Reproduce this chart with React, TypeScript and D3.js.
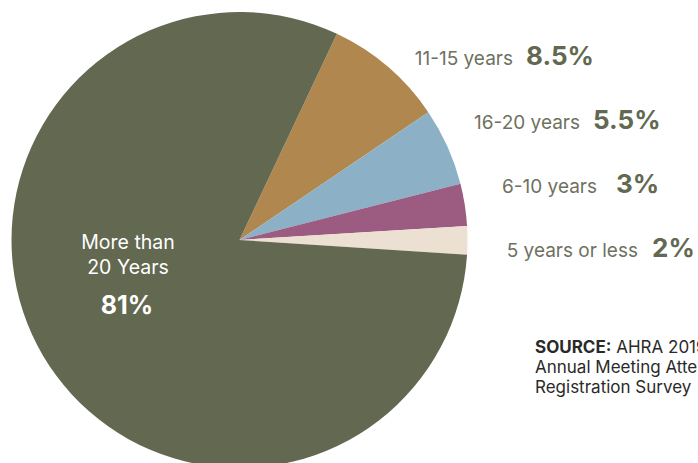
import React from "react";
import * as d3 from "d3";

const categories = ["11-15 years", "16-20 years", "6-10 years", "5 years or less", "More than 20 Years"];
const values = [8.5, 5.5, 3, 2, 81];
const valueLabels = ["8.5%", "5.5%", "3%", "2%", "81%"];
const colors = ["#b0874f", "#8cb0c6", "#9c5c82", "#ebe0d2", "#636850"];

// layout for the outside labels (right edge of category text, baseline)
const labelLayout = [
  { x: 513, y: 65, gap: 13 },
  { x: 580, y: 129, gap: 13 },
  { x: 597, y: 193, gap: 19 },
  { x: 638, y: 257, gap: 14 },
];

const W = 698;
const H = 463;
const cx = 239.5;
const cy = 240;
const R = 228;
const startDeg = 25.3;

export default function App() {
  const pie = d3
    .pie<number>()
    .sort(null)
    .value((d) => d)
    .startAngle((startDeg * Math.PI) / 180)
    .endAngle((startDeg * Math.PI) / 180 + 2 * Math.PI);
  const arcs = pie(values);
  const arc = d3.arc<d3.PieArcDatum<number>>().innerRadius(0).outerRadius(R);
  const font = "Inter, 'Noto Sans', sans-serif";

  return (
    <svg
      width={W}
      height={H}
      style={{ position: "absolute", left: 0, top: 0, background: "#fff" }}
      fontFamily={font}
    >
      <g transform={`translate(${cx},${cy})`}>
        {arcs.map((a, i) => (
          <path key={categories[i]} d={arc(a) || ""} fill={colors[i]} />
        ))}
      </g>
      {labelLayout.map((l, i) => (
        <g key={categories[i]}>
          <text x={l.x} y={l.y} textAnchor="end" fontSize={19} fill="#6e7160">
            {categories[i]}
          </text>
          <text x={l.x + l.gap} y={l.y} fontSize={26} fontWeight={700} fill="#636850">
            {valueLabels[i]}
          </text>
        </g>
      ))}
      <g fill="#ffffff" textAnchor="middle">
        <text x={128} y={249} fontSize={19.5}>
          More than
        </text>
        <text x={128} y={274} fontSize={19.5}>
          20 Years
        </text>
        <text x={127} y={314} fontSize={25} fontWeight={700}>
          {valueLabels[4]}
        </text>
      </g>
      <g fontSize={17} fill="#2a2a2a">
        <text x={535} y={353}>
          <tspan fontWeight={700}>SOURCE:</tspan> AHRA 2019
        </text>
        <text x={535} y={373}>Annual Meeting Attendee</text>
        <text x={535} y={393}>Registration Survey</text>
      </g>
    </svg>
  );
}
